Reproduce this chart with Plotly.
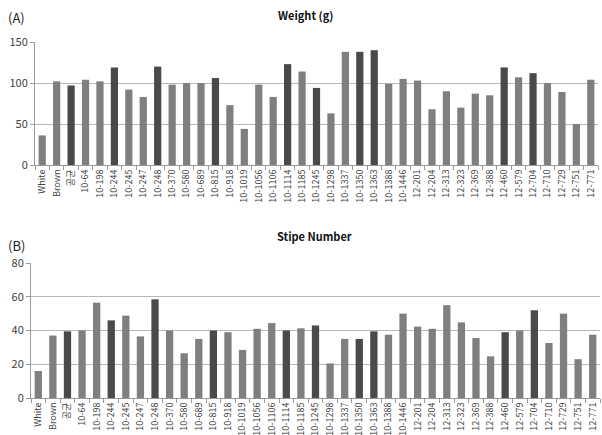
import plotly.graph_objects as go

categories = ["White", "Brown", "공균", "10-64", "10-198", "10-244", "10-245", "10-247", "10-248",
              "10-370", "10-580", "10-689", "10-815", "10-918", "10-1019", "10-1056", "10-1106",
              "10-1114", "10-1185", "10-1245", "10-1298", "10-1337", "10-1350", "10-1363",
              "10-1388", "10-1446", "12-201", "12-204", "12-313", "12-323", "12-369", "12-388",
              "12-460", "12-579", "12-704", "12-710", "12-729", "12-751", "12-771"]

weight = [36, 102, 97, 104, 102, 119, 92, 83, 120, 98, 100, 100, 106, 73, 44, 98, 83, 123,
          114, 94, 63, 138, 138, 140, 99, 105, 103, 68, 90, 70, 87, 85, 119, 107, 112, 100,
          89, 50, 104]

stipe = [16, 37, 39.5, 40, 56.5, 46, 48.8, 36.5, 58.5, 40, 26.5, 35, 40, 39, 28.5, 41, 44.4, 40,
         41.3, 43, 20.5, 35, 35, 39.5, 37.5, 50, 42.3, 41, 55, 44.8, 35.5, 24.7, 39, 40, 52,
         32.6, 50, 23, 37.5]

highlight = ["공균", "10-244", "10-248", "10-815", "10-1114", "10-1245", "10-1350", "10-1363",
             "12-460", "12-704"]

LIGHT = "#7f7f7f"
DARK = "#4a4a4a"
colors = [DARK if c in highlight else LIGHT for c in categories]

W, H = 602, 435
FONT = "Noto Sans CJK KR, DejaVu Sans, sans-serif"

fig = go.Figure()
fig.add_trace(go.Bar(x=categories, y=weight, marker=dict(color=colors, line=dict(width=0)),
                     xaxis="x", yaxis="y", showlegend=False))
fig.add_trace(go.Bar(x=categories, y=stipe, marker=dict(color=colors, line=dict(width=0)),
                     xaxis="x2", yaxis="y2", showlegend=False))

def px_x(p):
    return p / W

def px_y(p):
    return 1 - p / H

xcommon = dict(type="category", tickangle=-90, tickfont=dict(size=9, color="#404040", family=FONT),
               showgrid=False, showline=True, linecolor="#9a9a9a", linewidth=1,
               ticks="outside", ticklen=4, tickcolor="#9a9a9a", tickson="boundaries",
               zeroline=False, fixedrange=True, automargin=False)
ycommon = dict(showgrid=True, gridcolor="#b8b8b8", gridwidth=1, showline=True,
               linecolor="#9a9a9a", linewidth=1, ticks="outside", ticklen=4, tickcolor="#9a9a9a",
               tickfont=dict(size=11, color="#404040", family=FONT), zeroline=False,
               automargin=False)

fig.update_layout(
    width=W, height=H, margin=dict(l=0, r=0, t=0, b=0, autoexpand=False),
    paper_bgcolor="white", plot_bgcolor="white",
    bargap=0.5,
    xaxis=dict(domain=[px_x(35), px_x(598)], anchor="y", **xcommon),
    yaxis=dict(domain=[px_y(165), px_y(42)], anchor="x", range=[0, 150], dtick=50, **ycommon),
    xaxis2=dict(domain=[px_x(31), px_x(600)], anchor="y2", **xcommon),
    yaxis2=dict(domain=[px_y(398), px_y(263)], anchor="x2", range=[0, 80], dtick=20, **ycommon),
    annotations=[
        dict(text="(A)", x=px_x(6), y=px_y(17), xref="paper", yref="paper", xanchor="left",
             yanchor="middle", showarrow=False, font=dict(size=13, color="#222", family=FONT)),
        dict(text="<b>Weight (g)</b>", x=px_x(306), y=px_y(15), xref="paper", yref="paper",
             xanchor="center", yanchor="middle", showarrow=False,
             font=dict(size=11, color="#111", family=FONT)),
        dict(text="(B)", x=px_x(6), y=px_y(245), xref="paper", yref="paper", xanchor="left",
             yanchor="middle", showarrow=False, font=dict(size=13, color="#222", family=FONT)),
        dict(text="<b>Stipe Number</b>", x=px_x(314), y=px_y(236), xref="paper", yref="paper",
             xanchor="center", yanchor="middle", showarrow=False,
             font=dict(size=11, color="#111", family=FONT)),
    ],
)

fig.write_html("out.html", config={"displayModeBar": False},
               post_script="document.body.style.margin='0';document.body.style.overflow='hidden';")
